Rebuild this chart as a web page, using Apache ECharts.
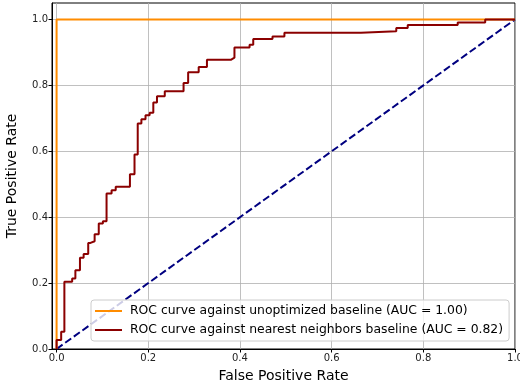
<!DOCTYPE html>
<html>
<head>
<meta charset="utf-8">
<script src="https://cdn.jsdelivr.net/npm/echarts@6/dist/echarts.min.js"></script>
<style>
  html, body { margin: 0; padding: 0; background: #fff; }
  #chart { width: 520px; height: 385px; }
</style>
</head>
<body>
<div id="chart"></div>
<script>
// ROC points (fpr, tpr) - each point is the top of a vertical rise
const knnFpr = [0, 0, 0.010, 0.017, 0.034, 0.041, 0.051, 0.059, 0.069, 0.074,
    0.083, 0.092, 0.101, 0.109, 0.120, 0.129, 0.160, 0.170, 0.177, 0.185,
    0.194, 0.203, 0.211, 0.219, 0.236, 0.277, 0.287, 0.310, 0.328, 0.381,
    0.388, 0.421, 0.429, 0.471, 0.497, 0.664, 0.741, 0.766, 0.875, 0.935, 1.0];
const knnTpr = [0, 0.027, 0.052, 0.204, 0.214, 0.239, 0.277, 0.288, 0.322, 0.327,
    0.348, 0.381, 0.388, 0.472, 0.482, 0.492, 0.530, 0.590, 0.684, 0.697,
    0.709, 0.717, 0.748, 0.767, 0.782, 0.807, 0.840, 0.856, 0.878, 0.884,
    0.915, 0.923, 0.941, 0.948, 0.960, 0.964, 0.974, 0.983, 0.991, 1.0, 1.0];
const baseFpr = [0, 0, 1];
const baseTpr = [0, 1, 1];
const chanceFpr = [0, 1];
const chanceTpr = [0, 1];
const xTicks = [0, 0.2, 0.4, 0.6, 0.8, 1.0];
const yTicks = [0, 0.2, 0.4, 0.6, 0.8, 1.0];
const seriesNames = [
    'ROC curve against unoptimized baseline (AUC = 1.00)',
    'ROC curve against nearest neighbors baseline (AUC = 0.82)'
];

const zip = (xs, ys) => xs.map((x, i) => [x, ys[i]]);

const chart = echarts.init(document.getElementById('chart'));
const font = 'DejaVu Sans';

chart.setOption({
    animation: false,
    textStyle: { fontFamily: font },
    grid: {
        left: 52, right: 5, top: 3, bottom: 36,
        containLabel: false, outerBoundsMode: 'none',
        show: true, borderColor: '#000', borderWidth: 1, backgroundColor: 'transparent'
    },
    xAxis: {
        type: 'value',
        min: -0.01, max: 1.0,
        name: 'False Positive Rate',
        nameLocation: 'middle',
        nameGap: 20,
        nameTextStyle: { fontSize: 14, color: '#000', fontFamily: font },
        axisLine: { show: true, onZero: false, lineStyle: { color: '#000', width: 1 } },
        axisTick: { show: true, inside: false, length: 3.5, customValues: xTicks, lineStyle: { color: '#000' } },
        axisLabel: {
            customValues: xTicks, fontSize: 10, color: '#222', margin: 4, fontFamily: font,
            formatter: v => v.toFixed(1)
        },
        splitLine: { show: true, lineStyle: { color: '#b0b0b0', width: 0.8 } }
    },
    yAxis: {
        type: 'value',
        min: 0, max: 1.05,
        name: 'True Positive Rate',
        nameLocation: 'middle',
        nameGap: 33,
        nameTextStyle: { fontSize: 14, color: '#000', fontFamily: font },
        axisLine: { show: true, onZero: false, lineStyle: { color: '#000', width: 1 } },
        axisTick: { show: true, inside: false, length: 3.5, customValues: yTicks, lineStyle: { color: '#000' } },
        axisLabel: {
            customValues: yTicks, fontSize: 10, color: '#222', margin: 4, fontFamily: font,
            formatter: v => v.toFixed(1)
        },
        splitLine: { show: true, lineStyle: { color: '#b0b0b0', width: 0.8 } }
    },
    legend: {
        orient: 'vertical',
        left: 91, top: 300,
        padding: [5, 6, 5, 4],
        itemGap: 7,
        itemWidth: 27, itemHeight: 2,
        icon: 'rect',
        backgroundColor: 'rgba(255,255,255,0.8)',
        borderColor: '#cccccc', borderWidth: 1, borderRadius: 3,
        textStyle: { fontSize: 12.4, color: '#000', fontFamily: font, padding: [0, 0, 0, 3] },
        data: seriesNames
    },
    series: [
        {
            name: 'chance',
            type: 'line',
            data: zip(chanceFpr, chanceTpr),
            showSymbol: false, symbol: 'none',
            lineStyle: { color: '#000080', width: 2, type: [7.4, 3.2] },
            z: 1
        },
        {
            name: seriesNames[0],
            type: 'line',
            data: zip(baseFpr, baseTpr),
            showSymbol: false, symbol: 'none',
            itemStyle: { color: '#ff8c00' },
            lineStyle: { color: '#ff8c00', width: 2 },
            z: 2
        },
        {
            name: seriesNames[1],
            type: 'line',
            step: 'end',
            data: zip(knnFpr, knnTpr),
            showSymbol: false, symbol: 'none',
            itemStyle: { color: '#8b0000' },
            lineStyle: { color: '#8b0000', width: 2 },
            z: 3
        }
    ]
});
</script>
</body>
</html>
